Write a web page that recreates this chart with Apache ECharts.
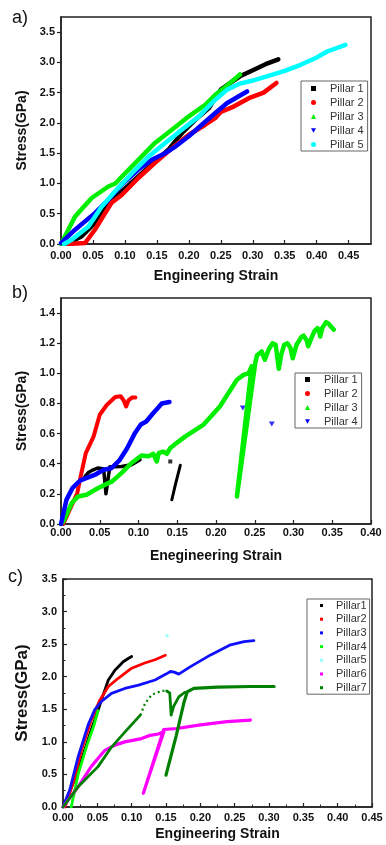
<!DOCTYPE html>
<html><head><meta charset="utf-8">
<script src="https://cdn.jsdelivr.net/npm/echarts@6/dist/echarts.min.js"></script>
<style>html,body{margin:0;padding:0;background:#fff}#c{width:386px;height:845px}</style>
</head><body><div id="c"></div>
<script>
// ---------- Panel a) ----------
const aPillar1 = [[0.005,0],[0.0115,0.016],[0.032,0.125],[0.053,0.35],[0.074,0.68],[0.095,0.87],[0.121,1.115],[0.147,1.36],[0.168,1.556],[0.189,1.83],[0.21,2.05],[0.231,2.24],[0.25,2.55],[0.27,2.7],[0.28,2.77],[0.296,2.85],[0.32,2.97],[0.34,3.05]];
const aPillar2 = [[0.0115,0],[0.0376,0.016],[0.053,0.236],[0.069,0.51],[0.079,0.68],[0.095,0.81],[0.121,1.09],[0.147,1.34],[0.1735,1.58],[0.1995,1.8],[0.2257,1.97],[0.241,2.08],[0.25,2.18],[0.27,2.27],[0.296,2.42],[0.317,2.5],[0.337,2.66]];
const aPillar3 = [[0,0],[0.022,0.455],[0.048,0.76],[0.074,0.95],[0.085,1.0],[0.095,1.11],[0.121,1.39],[0.147,1.67],[0.1735,1.886],[0.1995,2.105],[0.2257,2.3],[0.241,2.46],[0.26,2.62],[0.28,2.8]];
const aPillar4 = [[0,0.016],[0.022,0.236],[0.053,0.51],[0.074,0.73],[0.095,0.98],[0.121,1.23],[0.142,1.39],[0.163,1.5],[0.179,1.61],[0.1995,1.776],[0.2257,2.02],[0.241,2.16],[0.26,2.33],[0.291,2.52]];
const aPillar5 = [[0.005,0],[0.0167,0.07],[0.043,0.29],[0.0638,0.62],[0.0846,0.87],[0.111,1.17],[0.137,1.445],[0.163,1.67],[0.189,1.886],[0.215,2.1],[0.241,2.38],[0.26,2.55],[0.28,2.65],[0.3,2.7],[0.322,2.77],[0.35,2.86],[0.375,2.96],[0.4,3.08],[0.4165,3.18],[0.445,3.29]];

// ---------- Panel b) ----------
const bPillar1a = [[0.031,0.316],[0.035,0.34],[0.04,0.356],[0.048,0.372],[0.055,0.365],[0.058,0.2],[0.063,0.38],[0.07,0.38],[0.078,0.382],[0.091,0.393],[0.102,0.427]];
const bPillar1b = [[0.143,0.161],[0.148,0.27],[0.154,0.39]];
const bPillar1pt = [[0.141,0.415]];
const bPillar2 = [[0.003,0],[0.01,0.08],[0.021,0.206],[0.026,0.33],[0.032,0.47],[0.042,0.58],[0.05,0.725],[0.059,0.79],[0.07,0.843],[0.077,0.848],[0.081,0.82],[0.084,0.78],[0.087,0.82],[0.092,0.84],[0.096,0.84]];
const bPillar3 = [[0,0],[0.003,0.017],[0.014,0.14],[0.022,0.183],[0.033,0.194],[0.048,0.239],[0.066,0.283],[0.078,0.338],[0.091,0.405],[0.104,0.455],[0.113,0.449],[0.119,0.466],[0.1236,0.415],[0.126,0.47],[0.132,0.48],[0.1365,0.466],[0.141,0.504],[0.149,0.537],[0.16,0.58],[0.184,0.66],[0.205,0.78],[0.227,0.957],[0.2355,0.99],[0.242,1.0],[0.246,1.046],[0.227,0.183],[0.2506,1.068],[0.253,1.12],[0.259,1.145],[0.263,1.09],[0.265,1.08],[0.268,1.16],[0.273,1.2],[0.277,1.19],[0.281,1.03],[0.282,1.02],[0.284,1.12],[0.288,1.19],[0.292,1.2],[0.296,1.17],[0.299,1.1],[0.301,1.11],[0.304,1.19],[0.31,1.24],[0.313,1.25],[0.317,1.22],[0.319,1.18],[0.322,1.22],[0.327,1.28],[0.331,1.3],[0.334,1.26],[0.3345,1.245],[0.337,1.3],[0.342,1.34],[0.345,1.33],[0.352,1.29]];
const bPillar4 = [[0,0],[0.007,0.16],[0.015,0.24],[0.025,0.29],[0.035,0.31],[0.045,0.33],[0.055,0.36],[0.065,0.37],[0.075,0.42],[0.085,0.5],[0.095,0.6],[0.103,0.66],[0.11,0.68],[0.118,0.73],[0.125,0.77],[0.13,0.8],[0.14,0.81]];
const bPillar4pts = [[0.2346,0.77],[0.272,0.664]];

// ---------- Panel c) ----------
const cPillar1 = [[0,0],[0.02,0.5],[0.04,1.15],[0.05,1.45],[0.0585,1.72],[0.066,1.95],[0.0756,2.1],[0.0877,2.23],[0.095,2.28],[0.1,2.31]];
const cPillar2 = [[0.003,0],[0.0146,0.36],[0.0268,0.87],[0.041,1.33],[0.0536,1.64],[0.066,1.85],[0.0804,1.976],[0.1,2.13],[0.119,2.21],[0.134,2.26],[0.149,2.33]];
const cPillar3 = [[0,0],[0.0098,0.26],[0.022,0.77],[0.0366,1.26],[0.046,1.49],[0.056,1.62],[0.0706,1.745],[0.09,1.82],[0.11,1.87],[0.134,1.95],[0.15,2.04],[0.1565,2.08],[0.162,2.07],[0.1686,2.04],[0.1857,2.155],[0.215,2.335],[0.244,2.49],[0.2637,2.54],[0.278,2.555]];
const cPillar4 = [[0.012,0],[0.022,0.5],[0.035,0.95],[0.045,1.25],[0.051,1.48]];
const cPillar5 = [[0.1516,2.63]];
const cPillar6 = [[0,0],[0.022,0.31],[0.041,0.62],[0.061,0.87],[0.0756,0.95],[0.09,1.0],[0.1145,1.05],[0.127,1.1],[0.139,1.12],[0.147,1.16],[0.117,0.21],[0.115,0.2],[0.1467,1.19],[0.166,1.205],[0.2,1.26],[0.239,1.31],[0.273,1.335]];
const cPillar7a = [[0,0],[0.022,0.31],[0.051,0.62],[0.0707,0.92],[0.09,1.15],[0.1126,1.41]];
const cPillar7dot = [[0.1126,1.41],[0.1195,1.59],[0.129,1.72],[0.1438,1.785],[0.151,1.78]];
const cPillar7b = [[0.151,1.78],[0.1555,1.75],[0.1575,1.41],[0.161,1.54],[0.1686,1.69],[0.176,1.75],[0.178,1.76]];
const cPillar7c = [[0.15,0.49],[0.165,1.1],[0.176,1.6],[0.181,1.77],[0.1906,1.82],[0.2248,1.84],[0.273,1.85],[0.3075,1.85]];

const FONT = "'Liberation Sans', Arial, sans-serif";
const DOWN_TRI = 'path://M0,0 L10,0 L5,9 Z';

function ln(name, data, color, gi, w, extra) {
  return Object.assign({type:'line', name, data, xAxisIndex:gi, yAxisIndex:gi, symbol:'none', showSymbol:false,
    lineStyle:{color, width:w, cap:'round', join:'round'}, itemStyle:{color}, animation:false, silent:true}, extra||{});
}
function pts(name, data, color, gi, symbol, size) {
  return {type:'scatter', name, data, xAxisIndex:gi, yAxisIndex:gi, symbol, symbolSize:size, itemStyle:{color}, animation:false, silent:true};
}
function xAx(gi, max, name, gap, margin, minor, showMax) {
  return {gridIndex:gi, type:'value', min:0, max, interval:0.05,
    axisLine:{show:true, onZero:false, lineStyle:{color:'#222', width:1.5}},
    axisTick:{show:true, inside:true, length:4, lineStyle:{color:'#222', width:1.2}},
    minorTick: minor ? {show:true, splitNumber:2, length:2.5, lineStyle:{color:'#222', width:1}} : {show:false},
    axisLabel:{margin, fontSize:11, fontWeight:'bold', color:'#111', fontFamily:FONT, formatter:v=>v.toFixed(2), showMaxLabel:showMax, showMinLabel:true, hideOverlap:false},
    splitLine:{show:false}, minorSplitLine:{show:false},
    name, nameLocation:'middle', nameGap:gap, nameTextStyle:{fontSize:14, fontWeight:'bold', color:'#111', fontFamily:FONT}};
}
function yAx(gi, max, interval, name, gap, fs, inside, minor, showMax, dec) {
  return {gridIndex:gi, type:'value', min:0, max, interval,
    axisLine:{show:true, onZero:false, lineStyle:{color:'#222', width:1.5}},
    axisTick:{show:true, inside, length:4, lineStyle:{color:'#222', width:1.2}},
    minorTick: minor ? {show:true, splitNumber:2, length:2.5, lineStyle:{color:'#222', width:1}} : {show:false},
    axisLabel:{margin:6, fontSize:11, fontWeight:'bold', color:'#111', fontFamily:FONT, formatter:v=>v.toFixed(dec), showMaxLabel:showMax, showMinLabel:true, hideOverlap:false},
    splitLine:{show:false}, minorSplitLine:{show:false},
    name, nameLocation:'middle', nameGap:gap, nameTextStyle:{fontSize:fs, fontWeight:'bold', color:'#111', fontFamily:FONT}};
}
const legText = {fontSize:11, color:'#333', fontFamily:FONT, padding:[0,0,0,9], lineHeight:11};

const option = {
  backgroundColor:'#fff',
  animation:false,
  grid:[
    {left:61, top:17, width:310, height:227, show:true, borderColor:'#222', borderWidth:1.5, containLabel:false, outerBoundsMode:'none'},
    {left:61, top:298, width:310, height:226, show:true, borderColor:'#222', borderWidth:1.5, containLabel:false, outerBoundsMode:'none'},
    {left:63, top:579, width:309, height:228, show:true, borderColor:'#222', borderWidth:1.5, containLabel:false, outerBoundsMode:'none'}
  ],
  xAxis:[
    xAx(0, 0.485, 'Engineering Strain', 25, 6, false, false),
    xAx(1, 0.4, 'Enegineering Strain', 25, 3, false, true),
    xAx(2, 0.45, 'Engineering Strain', 20, 5, true, true)
  ],
  yAxis:[
    yAx(0, 3.75, 0.5, 'Stress(GPa)', 30, 14, false, false, false, 1),
    yAx(1, 1.5, 0.2, 'Stress(GPa)', 29, 14, false, false, false, 1),
    yAx(2, 3.5, 0.5, 'Stress(GPa)', 26, 17, true, true, true, 1)
  ],
  legend:[
    {left:301, top:81, orient:'vertical', padding:[2,4,1,10], itemGap:3, itemWidth:5, itemHeight:5,
     borderColor:'#666', borderWidth:1, textStyle:legText, selectedMode:false,
     data:[{name:'Pillar 1', icon:'rect'},{name:'Pillar 2', icon:'circle'},{name:'Pillar 3', icon:'triangle'},{name:'Pillar 4', icon:DOWN_TRI},{name:'Pillar 5', icon:'circle'}]},
    {left:295, top:373, orient:'vertical', padding:[1,4,1,10], itemGap:3, itemWidth:5, itemHeight:5,
     borderColor:'#666', borderWidth:1, textStyle:legText, selectedMode:false,
     data:[{name:'Pillar 1', icon:'rect'},{name:'Pillar 2', icon:'circle'},{name:'Pillar 3', icon:'triangle'},{name:'Pillar 4', icon:DOWN_TRI}]},
    {left:307, top:599, orient:'vertical', padding:[1,3,1,13], itemGap:2.7, itemWidth:3, itemHeight:3,
     borderColor:'#666', borderWidth:1, textStyle:Object.assign({}, legText, {padding:[0,0,0,8]}), selectedMode:false,
     data:[{name:'Pillar1', icon:'rect'},{name:'Pillar2', icon:'rect'},{name:'Pillar3', icon:'rect'},{name:'Pillar4', icon:'rect'},{name:'Pillar5', icon:'rect'},{name:'Pillar6', icon:'rect'},{name:'Pillar7', icon:'rect'}]}
  ],
  graphic:[
    {type:'text', left:12, top:9, style:{text:'a)', font:"18px "+FONT, fill:'#111'}},
    {type:'text', left:12, top:284, style:{text:'b)', font:"18px "+FONT, fill:'#111'}},
    {type:'text', left:8, top:568, style:{text:'c)', font:"18px "+FONT, fill:'#111'}}
  ],
  series:[
    ln('Pillar 1', aPillar1, '#000000', 0, 4.5),
    ln('Pillar 2', aPillar2, '#ff0000', 0, 4.5),
    ln('Pillar 3', aPillar3, '#00ee00', 0, 4.5),
    ln('Pillar 4', aPillar4, '#0000ff', 0, 4.5),
    ln('Pillar 5', aPillar5, '#00ffff', 0, 4.5),

    ln('Pillar 1', bPillar1a, '#000000', 1, 3.5),
    ln('Pillar 1', bPillar1b, '#000000', 1, 3),
    pts('Pillar 1', bPillar1pt, '#000000', 1, 'rect', 4),
    ln('Pillar 2', bPillar2, '#ff0000', 1, 4),
    ln('Pillar 3', bPillar3, '#00ee00', 1, 4.5),
    ln('Pillar 4', bPillar4, '#0000ff', 1, 4.5),
    pts('Pillar 4', bPillar4pts, '#0000ff', 1, DOWN_TRI, [6,5]),

    ln('Pillar1', cPillar1, '#000000', 2, 2.8),
    ln('Pillar2', cPillar2, '#ff0000', 2, 2.8),
    ln('Pillar3', cPillar3, '#1010ff', 2, 2.8),
    ln('Pillar4', cPillar4, '#00ff00', 2, 2.8),
    pts('Pillar5', cPillar5, '#80ffff', 2, 'rect', 3),
    ln('Pillar6', cPillar6, '#ff00ff', 2, 3.2),
    ln('Pillar7', cPillar7a, '#008000', 2, 2.8),
    ln('Pillar7', cPillar7dot, '#008000', 2, 2.2, {lineStyle:{color:'#008000', width:2.2, type:[2,3]}}),
    ln('Pillar7', cPillar7b, '#008000', 2, 2.8),
    ln('Pillar7', cPillar7c, '#008000', 2, 3.2)
  ]
};
const chart = echarts.init(document.getElementById('c'), null, {renderer:'canvas'});
chart.setOption(option);
</script>
</body></html>
